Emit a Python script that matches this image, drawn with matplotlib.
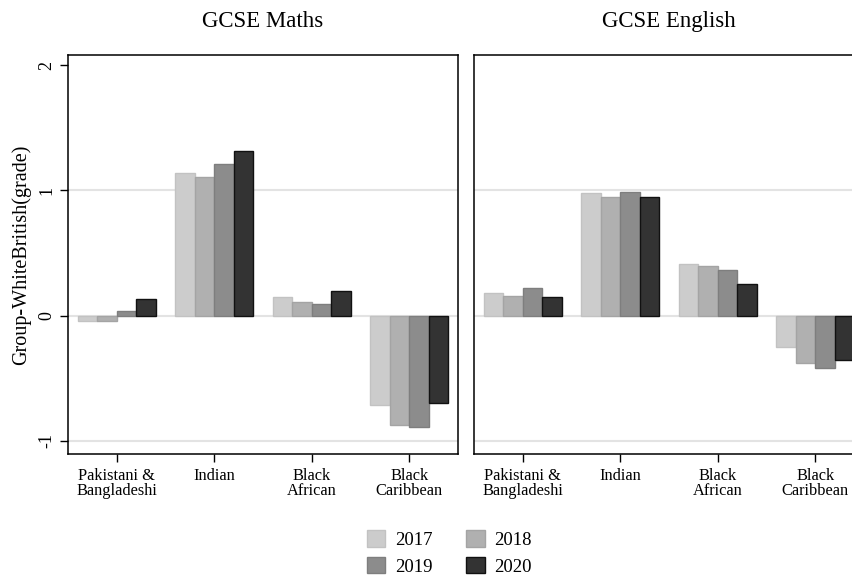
import matplotlib.pyplot as plt
import numpy as np
from matplotlib.patches import Patch

plt.rcParams['font.family'] = ['Liberation Serif', 'DejaVu Serif']

# Data
groups = ['Pakistani &\nBangladeshi', 'Indian', 'Black\nAfrican', 'Black\nCaribbean']
years = ['2017', '2018', '2019', '2020']

maths_2017 = [-0.04, 1.14, 0.15, -0.71]
maths_2018 = [-0.045, 1.11, 0.11, -0.875]
maths_2019 = [0.04, 1.21, 0.09, -0.885]
maths_2020 = [0.13, 1.31, 0.20, -0.70]

english_2017 = [0.18, 0.975, 0.41, -0.25]
english_2018 = [0.16, 0.947, 0.395, -0.375]
english_2019 = [0.22, 0.985, 0.368, -0.42]
english_2020 = [0.145, 0.944, 0.256, -0.352]

fills = ['#cccccc', '#b0b0b0', '#8c8c8c', '#333333']
edges = ['#c2c2c2', '#a4a4a4', '#7e7e7e', '#111111']

fig = plt.figure(figsize=(8.52, 5.77), dpi=100)
w = 0.4577
ax1 = fig.add_axes([0.0798, 0.2132, w, 0.6915])
ax2 = fig.add_axes([0.5563, 0.2132, w, 0.6915])

panels = [
    (ax1, 'GCSE Maths', [maths_2017, maths_2018, maths_2019, maths_2020]),
    (ax2, 'GCSE English', [english_2017, english_2018, english_2019, english_2020]),
]

x = np.arange(len(groups))
bw = 0.2
for ax, title, series in panels:
    for y in [-1, 0, 1]:
        ax.axhline(y, color='#e3e3e3', lw=1.5, zorder=0)
    for i, vals in enumerate(series):
        ax.bar(x + (i - 1.5) * bw, vals, width=bw, color=fills[i],
               edgecolor=edges[i], linewidth=1, zorder=2)
    ax.set_xlim(-0.5, 3.5)
    ax.set_ylim(-1.104, 2.08)
    ax.set_xticks(x)
    ax.set_xticklabels(groups, fontsize=11.8, linespacing=0.9)
    ax.tick_params(axis='x', length=6, width=1, pad=4)
    ax.set_title(title, fontsize=16.5, pad=20)
    for s in ax.spines.values():
        s.set_linewidth(1.1)

ax1.set_yticks([-1, 0, 1, 2])
ax1.set_yticklabels(['-1', '0', '1', '2'], rotation=90, va='center', fontsize=13)
ax1.tick_params(axis='y', length=6, width=1, pad=3)
ax1.set_ylabel('Group-WhiteBritish(grade)', fontsize=14.5, labelpad=5)

ax2.set_yticks([])

# legend filled row-wise: 2017 2018 / 2019 2020
order = [0, 2, 1, 3]
handles = [Patch(facecolor=fills[i], edgecolor=edges[i], label=years[i]) for i in order]
fig.legend(handles=handles, ncol=2, loc='center', bbox_to_anchor=(0.527, 0.042),
           frameon=False, fontsize=13.5, handlelength=1.0, handleheight=1.0,
           columnspacing=1.8, labelspacing=0.42, handletextpad=0.5)

fig.savefig('out.png', dpi=100)
